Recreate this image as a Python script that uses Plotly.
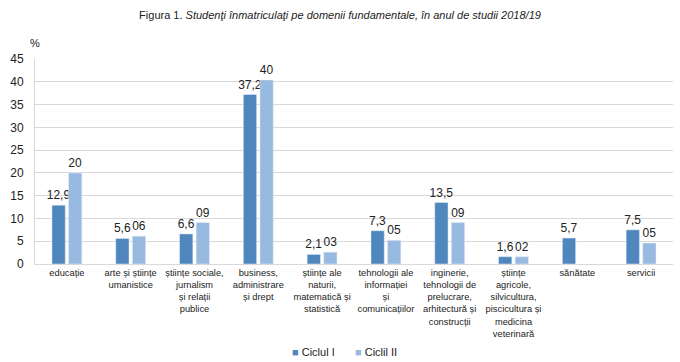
import plotly.graph_objects as go

categories = [
    "educație",
    "arte și științe<br>umanistice",
    "științe sociale,<br>jurnalism<br>și relații<br>publice",
    "business,<br>administrare<br>și drept",
    "științe ale<br>naturii,<br>matematică și<br>statistică",
    "tehnologii ale<br>informației<br>și<br>comunicațiilor",
    "inginerie,<br>tehnologii de<br>prelucrare,<br>arhitectură și<br>construcții",
    "științe<br>agricole,<br>silvicultura,<br>piscicultura și<br>medicina<br>veterinară",
    "sănătate",
    "servicii",
]
ciclul1 = [12.9, 5.6, 6.6, 37.2, 2.1, 7.3, 13.5, 1.6, 5.7, 7.5]
ciclul1_text = ["12,9", "5,6", "6,6", "37,2", "2,1", "7,3", "13,5", "1,6", "5,7", "7,5"]
ciclul2 = [20.0, 6.1, 9.1, 40.4, 2.6, 5.2, 9.1, 1.6, None, 4.6]
ciclul2_text = ["20", "06", "09", "40", "03", "05", "09", "02", "", "05"]
y_ticks = [0, 5, 10, 15, 20, 25, 30, 35, 40, 45]
series_names = ["Ciclul I", "Ciclil II"]

FONT = "Liberation Sans, Arial, sans-serif"
C1 = "#4F86BD"
C2 = "#98B9E0"

fig = go.Figure()
fig.add_trace(go.Bar(
    name=series_names[0], x=categories, y=ciclul1, marker_color=C1,
    text=ciclul1_text, textposition="outside", cliponaxis=False,
    constraintext="none", textfont=dict(size=12, color="#222", family=FONT),
))
fig.add_trace(go.Bar(
    name=series_names[1], x=categories, y=ciclul2, marker_color=C2,
    text=ciclul2_text, textposition="outside", cliponaxis=False,
    constraintext="none", textfont=dict(size=12, color="#222", family=FONT),
))

PL, PR, PT, PB = 35, 7, 59, 98
PW = 680 - PL - PR
PH = 362 - PT - PB

def px_x(x):
    return (x - PL) / PW

def px_y(y):
    return (362 - PB - y) / PH

legend_ann = [
    dict(text=f"<span style='color:{C1}'>■</span> {series_names[0]}", x=px_x(290), y=px_y(352)),
    dict(text=f"<span style='color:{C2}'>■</span> {series_names[1]}", x=px_x(353), y=px_y(352)),
]
annotations = [dict(text="%", xref="paper", yref="paper", x=0, y=px_y(43),
                    xanchor="center", yanchor="middle", showarrow=False,
                    font=dict(size=11, family=FONT, color="#222"))]
for a in legend_ann:
    annotations.append(dict(a, xref="paper", yref="paper", xanchor="left", yanchor="middle",
                            showarrow=False, font=dict(size=11, family=FONT, color="#222")))

fig.update_layout(
    width=680, height=362,
    margin=dict(l=PL, r=PR, t=PT, b=PB, autoexpand=False),
    paper_bgcolor="white", plot_bgcolor="white",
    font=dict(family=FONT, color="#222"),
    barmode="group", bargap=0.48, bargroupgap=0.2,
    showlegend=False,
    title=dict(
        text="Figura 1. <i>Studenţi înmatriculaţi pe domenii fundamentale, în anul de studii 2018/19</i>",
        x=0.5, xanchor="center", y=1 - 15 / 362, yanchor="middle",
        font=dict(size=11, family=FONT, color="#222"),
    ),
    annotations=annotations,
)
fig.update_xaxes(
    showline=True, linecolor="#D9D9D9", linewidth=1,
    tickfont=dict(size=9.3, family=FONT, color="#222"), tickangle=0,
    ticks="", automargin=False,
)
fig.update_yaxes(
    range=[0, 45], tickvals=y_ticks, showgrid=True, gridcolor="#D9D9D9",
    showline=True, linecolor="#D9D9D9", zeroline=False, ticklabelstandoff=8,
    tickfont=dict(size=12, family=FONT, color="#222"), ticks="", automargin=False,
)

fig.write_html(
    "out.html",
    config={"displayModeBar": False},
    post_script="document.body.style.margin='0';document.body.style.overflow='hidden';",
)
